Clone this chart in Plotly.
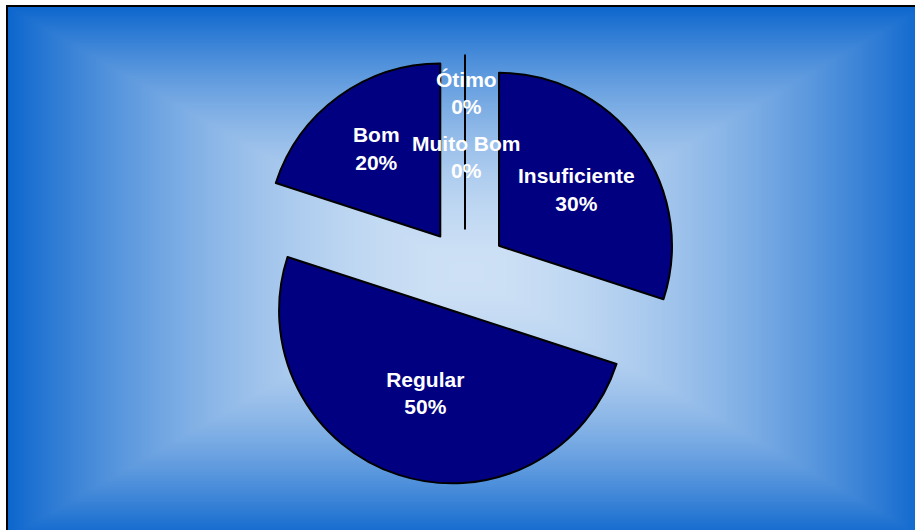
import numpy as np
import plotly.graph_objects as go

# ---- data ----
labels = ["Insuficiente", "Regular", "Bom", "Muito Bom", "Ótimo"]
values = [30, 50, 20, 0, 0]

total = sum(values)
pct = [round(100 * v / total) for v in values]

W, H = 915, 530

# ---- background: rectangular "from centre" gradient ----
cx, cy, hw, hh = 466.0, 272.0, 459.0, 266.0
xs = np.linspace(0, 925, 232)
ys = np.linspace(0, 540, 136)
X, Y = np.meshgrid(xs, ys)
Z = np.maximum(np.abs(X - cx) / hw, np.abs(Y - cy) / hh)
Z = np.clip(Z, 0, 1) ** 1.8

bg = go.Heatmap(
    x=xs, y=ys, z=Z, zmin=0, zmax=1, zsmooth="best",
    colorscale=[[0, "#cde0f5"], [1, "#0c66cd"]],
    showscale=False, hoverinfo="skip",
)

text_pos = ["inside" if v > 0 else "none" for v in values]
FONT = dict(family="Liberation Sans, Arial, sans-serif", size=21, color="white", weight="bold")

pie = go.Pie(
    labels=labels, values=values, sort=False, direction="clockwise", rotation=0,
    pull=[0.243] * len(values),
    marker=dict(colors=["#000080"] * len(values), line=dict(color="#000000", width=2)),
    texttemplate="%{label}<br>%{percent:.0%}",
    textposition=text_pos,
    insidetextorientation="horizontal",
    textfont=FONT,
    domain=dict(x=[250 / W, 680 / W], y=[44.5 / H, 474.5 / H]),
    hoverinfo="label+percent",
)

fig = go.Figure([bg, pie])

# labels of zero-valued slices (stacked near the top, as in the original)
zero_idx = [i for i, v in enumerate(values) if v == 0]
ann = []
for k, i in enumerate(reversed(zero_idx)):
    ann.append(dict(
        x=466 / W, y=1 - (93 + 64 * k) / H, xref="paper", yref="paper",
        text=f"{labels[i]}<br>{pct[i]}%", showarrow=False, font=FONT,
        xanchor="center", yanchor="middle", align="center",
    ))

fig.update_layout(
    width=W, height=H, margin=dict(l=0, r=0, t=0, b=0),
    paper_bgcolor="white", plot_bgcolor="rgba(0,0,0,0)",
    showlegend=False,
    xaxis=dict(domain=[7 / W, 1], range=[7, 915], visible=False, fixedrange=True),
    yaxis=dict(domain=[0, 1 - 6 / H], range=[530, 6], visible=False, fixedrange=True),
    annotations=ann,
    shapes=[dict(type="rect", xref="paper", yref="paper",
                 x0=7 / W, x1=1.05, y0=-0.05, y1=1 - 6 / H,
                 line=dict(color="black", width=2), fillcolor="rgba(0,0,0,0)")],
)

fig.write_html("out.html", config={"displayModeBar": False},
               post_script="document.body.style.margin='0';document.body.style.overflow='hidden';")
